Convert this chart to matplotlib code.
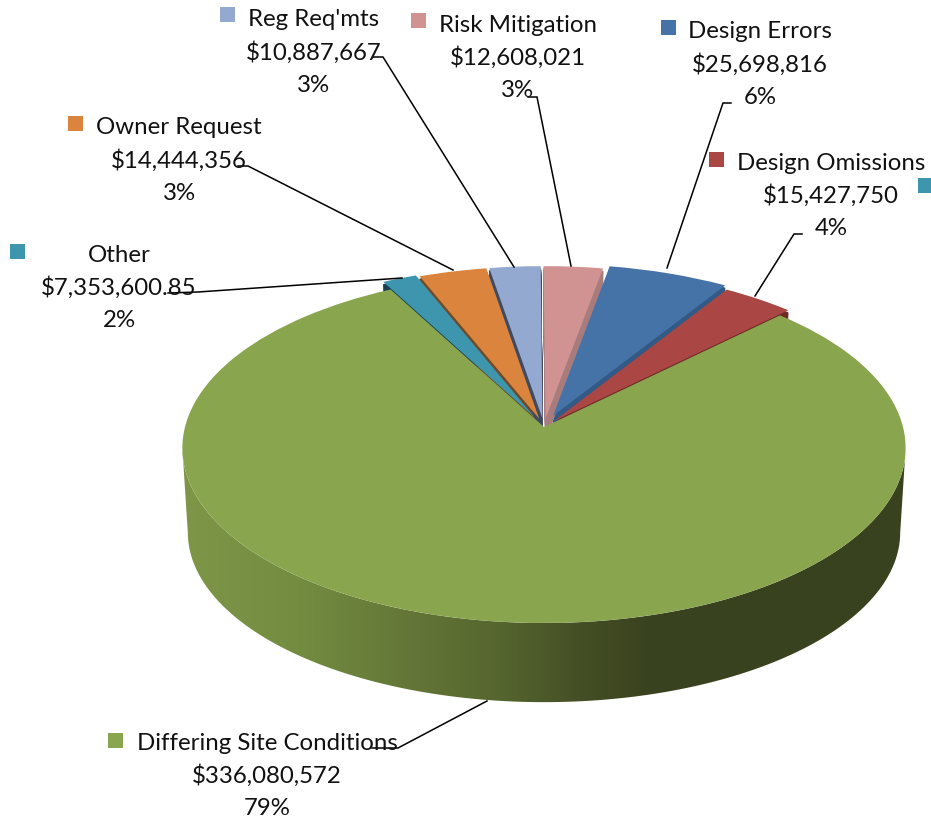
import numpy as np
import matplotlib
matplotlib.use("Agg")
import matplotlib.pyplot as plt
from matplotlib.patches import Wedge, Polygon, Rectangle
from matplotlib.path import Path
from matplotlib.transforms import Transform
from matplotlib.colors import LinearSegmentedColormap

# ---- data ----
categories = ["Design Errors", "Design Omissions", "Differing Site Conditions",
              "Other", "Owner Request", "Reg Req'mts", "Risk Mitigation"]
values = [25698816, 15427750, 336080572, 7353600.85, 14444356, 10887667, 12608021]
value_labels = ["$25,698,816", "$15,427,750", "$336,080,572", "$7,353,600.85",
                "$14,444,356", "$10,887,667", "$12,608,021"]
pct_labels = ["6%", "4%", "79%", "2%", "3%", "3%", "3%"]

# ---- style / layout ----
colors = ["#4572A7", "#AA4643", "#89A54E", "#3D96AE", "#DB843D", "#93A9CF", "#D19392"]
wall_colors = ["#325A85", "#6E2A28", "#89A54E", "#183F52", "#6E4A28", "#3F4A60", "#A87C7C"]
explode = [0.07, 0.045, 0, 0.06, 0.05, 0.05, 0.05]
start_angle = 79.6
text_x = [760, 831, 267, 119, 179, 314, 518]
text_y = [32, 163, 743, 255, 128, 20, 25]
marker_xy = [(661, 20), (709, 152), (108, 733), (10, 244), (68, 116), (220, 7), (411, 13)]
leaders = [
    [(731, 103), (723, 103), (667, 268)],
    [(802, 234), (794, 234), (755, 296)],
    [(372, 748), (398, 748), (487, 701)],
    [(168, 293), (198, 292), (402, 278)],
    [(238, 166), (248, 166), (453, 270)],
    [(373, 57), (383, 57), (514, 267)],
    [(528, 97), (537, 97), (571, 266)],
]
FS = 17.3


class Persp(Transform):
    """Maps the pie's circular plane into picture pixels, with perspective."""
    input_dims = 2
    output_dims = 2
    is_separable = False
    has_inverse = False

    def __init__(self, level=0.0):
        super().__init__()
        self.level = level

    def transform_non_affine(self, xy):
        xy = np.asarray(xy, dtype=float)
        d = self.level
        w = 1 + 0.12 * xy[:, 1]
        u = 544 + 359 * (1 - 0.015 * d) * xy[:, 0] / w
        v = 427 + 85 * d - 172.5 * (1 - 0.03 * d) * xy[:, 1] / w
        return np.column_stack([u, v])

    def transform_path_non_affine(self, path):
        return Path(self.transform_non_affine(path.vertices), path.codes)


fig = plt.figure(figsize=(9.31, 8.18), dpi=100)
ax = fig.add_axes([0, 0, 1, 1])
wedges, _ = ax.pie(values, explode=explode, colors=colors, startangle=start_angle,
                   counterclock=False, radius=1, wedgeprops=dict(linewidth=0))
ax.set_aspect("auto")
ax.set_xlim(0, 931)
ax.set_ylim(818, 0)
ax.axis("off")

top = Persp(0.0) + ax.transData
green_index = categories.index("Differing Site Conditions")

# outer wall of the big slice, shaded left to right
t = np.radians(np.linspace(187, 353, 200))
circle = np.column_stack([np.cos(t), np.sin(t)])
outline = np.vstack([Persp(0.0).transform_non_affine(circle),
                     Persp(1.0).transform_non_affine(circle)[::-1]])
clip = Polygon(outline, closed=True, transform=ax.transData, fc="none", ec="none")
ax.add_patch(clip)
cmap = LinearSegmentedColormap.from_list("wall", [
    (0.00, "#7F9648"), (0.16, "#738C40"), (0.30, "#657838"), (0.44, "#55652E"),
    (0.55, "#454F25"), (0.65, "#39421E"), (1.00, "#39421E")])
im = ax.imshow(np.linspace(0, 1, 512)[None, :], cmap=cmap, extent=(182, 905, 705, 440),
               aspect="auto", zorder=1, interpolation="bilinear")
im.set_clip_path(clip)
ax.set_xlim(0, 931)
ax.set_ylim(818, 0)

# cut faces of the pulled-out slices (the big slice's top covers what is below it)
for i, w in enumerate(wedges):
    if i == green_index:
        continue
    for lev in np.linspace(0.24, 0.03, 22):
        p = Wedge(w.center, w.r, w.theta1, w.theta2, fc=wall_colors[i], ec=wall_colors[i],
                  lw=0.7, zorder=2)
        ax.add_patch(p)
        p.set_transform(Persp(lev) + ax.transData)

for i, w in enumerate(wedges):
    w.set_transform(top)
    w.set_zorder(3 if i == green_index else 4)

# legend keys, labels, leader lines
for i, name in enumerate(categories):
    for k, s in enumerate([name, value_labels[i], pct_labels[i]]):
        ax.text(text_x[i], text_y[i] + 32.7 * k, s, ha="center", va="center",
                fontsize=FS, family="Lato", color="#111111", zorder=6)
    x, y = marker_xy[i]
    ax.add_patch(Rectangle((x, y), 15, 15, fc=colors[i], ec="none", zorder=6))
    lx, ly = zip(*leaders[i])
    ax.plot(lx, ly, color="black", lw=1.1, zorder=5, solid_joinstyle="miter")
ax.add_patch(Rectangle((918, 178), 14, 15, fc=colors[categories.index("Other")],
                       ec="none", zorder=6))

fig.savefig("out.png", dpi=100)
